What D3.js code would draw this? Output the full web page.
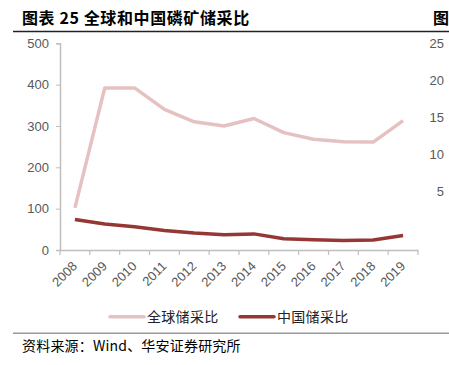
<!DOCTYPE html>
<html><head><meta charset="utf-8">
<script src="https://cdn.jsdelivr.net/npm/d3@7"></script>
<style>body{margin:0;background:#fff;} svg{display:block;}</style>
</head><body>
<svg id="c" width="449" height="365"></svg>
<script>
const years = ["2008","2009","2010","2011","2012","2013","2014","2015","2016","2017","2018","2019"];
const globalRatio = [102,392,392,340,310,300,318,284,268,262,261,313];
const chinaRatio = [74,63,56,47,41,37,39,27,25,23,24,35];
const yTicks = [0,100,200,300,400,500];
const rightTicks = [5,10,15,20,25];
const seriesNames = ["全球储采比","中国储采比"];
const colors = ["#e6c1c1","#953735"];

const svg = d3.select("#c");
const font = "'Liberation Sans', Arial, sans-serif";
const cjk = "'Noto Sans CJK SC', sans-serif";

// title
svg.append("text").attr("x",22).attr("y",24).attr("font-family",cjk).attr("font-weight","bold")
  .attr("font-size",16).attr("letter-spacing",0.6).attr("fill","#000").text("图表 25 全球和中国磷矿储采比");
svg.append("text").attr("x",433).attr("y",24).attr("font-family",cjk).attr("font-weight","bold")
  .attr("font-size",16).attr("fill","#000").text("图表");
svg.append("line").attr("x1",13).attr("x2",449).attr("y1",31.5).attr("y2",31.5)
  .attr("stroke","#222").attr("stroke-width",1.5);

const x = d3.scaleBand().domain(years).range([60,418]);
const y = d3.scaleLinear().domain([0,500]).range([250,43.3]);
const yR = d3.scaleLinear().domain([0,25]).range([229,43.3]);

const gy = svg.append("g").attr("transform","translate(60,0)")
  .call(d3.axisLeft(y).tickValues(yTicks).tickSize(4).tickPadding(7));
gy.select(".domain").attr("stroke","#bfbfbf").attr("stroke-width",1.5);
gy.selectAll(".tick line").attr("stroke","#bfbfbf");
gy.selectAll("text").attr("font-family",font).attr("font-size",13).attr("fill","#595959");

const gx = svg.append("g").attr("transform","translate(0,250)")
  .call(d3.axisBottom(x).tickSize(0).tickFormat(d=>d));
gx.select(".domain").attr("stroke","#bfbfbf").attr("stroke-width",1.5);
gx.selectAll(".tick line").remove();
gx.selectAll("text").attr("font-family",font).attr("font-size",13).attr("fill","#595959")
  .attr("text-anchor","end").attr("dy",0).attr("y",0)
  .attr("transform","translate(3,17) rotate(-45)");
// boundary ticks
const bounds = years.map(d=>x(d)).concat([x.range()[1]]);
svg.append("g").selectAll("line").data(bounds).join("line")
  .attr("x1",d=>d).attr("x2",d=>d).attr("y1",250).attr("y2",255)
  .attr("stroke","#bfbfbf").attr("stroke-width",1.2);

// right partial axis labels
svg.append("g").selectAll("text").data(rightTicks).join("text")
  .attr("x",444).attr("y",d=>yR(d)).attr("dy","0.35em").attr("text-anchor","end")
  .attr("font-family",font).attr("font-size",13).attr("fill","#595959").text(d=>d);

const line = d3.line().x((d,i)=>x(years[i])+x.bandwidth()/2).y(d=>y(d));
[globalRatio, chinaRatio].forEach((s,k)=>{
  svg.append("path").datum(s).attr("d",line).attr("fill","none")
    .attr("stroke",colors[k]).attr("stroke-width",3.5).attr("stroke-linejoin","round");
});

// legend
const lg = [{x:110,tx:147},{x:240,tx:277}];
lg.forEach((p,k)=>{
  svg.append("line").attr("x1",p.x).attr("x2",p.x+34).attr("y1",316.7).attr("y2",316.7)
    .attr("stroke",colors[k]).attr("stroke-width",3.5).attr("stroke-linecap","round");
  svg.append("text").attr("x",p.tx).attr("y",322).attr("font-family",cjk).attr("font-size",14)
    .attr("letter-spacing",0.3).attr("fill","#222").text(seriesNames[k]);
});

svg.append("line").attr("x1",13).attr("x2",449).attr("y1",333.3).attr("y2",333.3)
  .attr("stroke","#999").attr("stroke-width",1.5);
svg.append("text").attr("x",22).attr("y",351).attr("font-family",cjk).attr("font-size",14)
  .attr("letter-spacing",0.2).attr("fill","#000").text("资料来源：Wind、华安证券研究所");
</script>
</body></html>
